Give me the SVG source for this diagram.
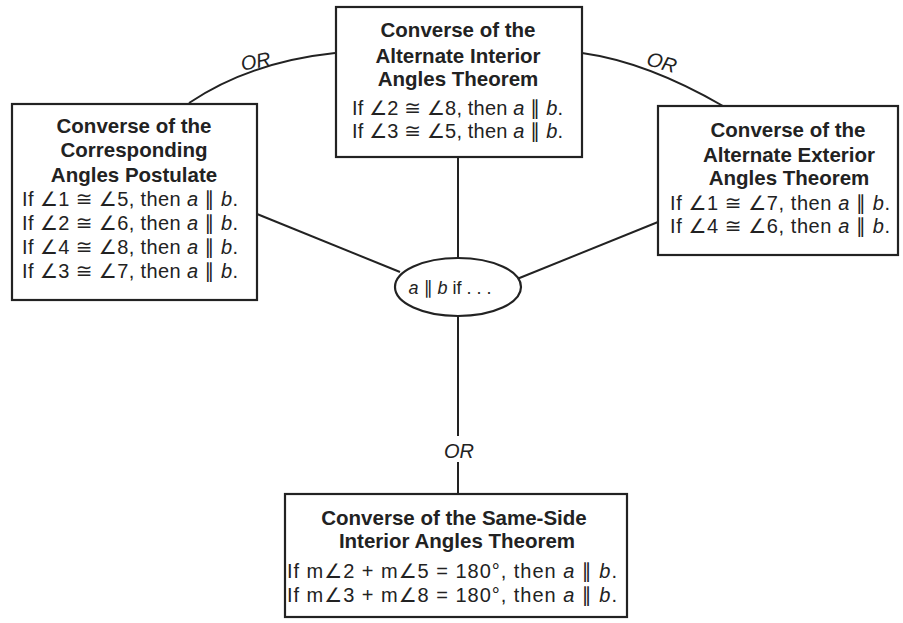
<svg xmlns="http://www.w3.org/2000/svg" width="903" height="623" viewBox="0 0 903 623">
<style>
.box{fill:#fff;stroke:#222;stroke-width:2.2}
.ln{fill:none;stroke:#222;stroke-width:2}
.t{font-family:"Liberation Sans","DejaVu Sans",Arial,sans-serif;font-size:20.5px;font-weight:bold;fill:#222;text-anchor:middle}
.b{font-family:"Liberation Sans","DejaVu Sans",Arial,sans-serif;font-size:20px;fill:#222;text-anchor:middle}
.c{font-size:18px}
.or{font-family:"Liberation Sans","DejaVu Sans",Arial,sans-serif;font-size:20px;font-style:italic;fill:#222;text-anchor:middle}
.i{font-style:italic}
</style>
<rect width="903" height="623" fill="#fff"/>
<g id="connectors">
<path class="ln" d="M189 103 Q250 62 335 53"/>
<path class="ln" d="M582 53 Q647 62 723 106"/>
<line class="ln" x1="458" y1="157" x2="458" y2="258"/>
<line class="ln" x1="257" y1="214" x2="400" y2="272"/>
<line class="ln" x1="658" y1="222" x2="517" y2="279"/>
<line class="ln" x1="458" y1="316" x2="458" y2="436"/>
<line class="ln" x1="458" y1="462" x2="458" y2="494"/>
<text class="or" transform="translate(257 68) rotate(-11)">OR</text>
<text class="or" transform="translate(660 69) rotate(16)">OR</text>
<text class="or" x="459" y="458">OR</text>
</g>
<g id="top">
<rect class="box" x="336" y="7" width="246" height="150"/>
<text class="t" x="458" y="37">Converse of the</text>
<text class="t" x="458" y="63">Alternate Interior</text>
<text class="t" x="458" y="86">Angles Theorem</text>
<text class="b" x="457.5" y="115" textLength="211" lengthAdjust="spacing">If ∠2 ≅ ∠8, then <tspan class="i">a</tspan> ∥ <tspan class="i">b</tspan>.</text>
<text class="b" x="457.5" y="138" textLength="211" lengthAdjust="spacing">If ∠3 ≅ ∠5, then <tspan class="i">a</tspan> ∥ <tspan class="i">b</tspan>.</text>
</g>
<g id="left">
<rect class="box" x="12" y="104" width="245" height="196"/>
<text class="t" x="134" y="133">Converse of the</text>
<text class="t" x="134" y="157">Corresponding</text>
<text class="t" x="134" y="182">Angles Postulate</text>
<text class="b" x="130" y="206" textLength="216" lengthAdjust="spacing">If ∠1 ≅ ∠5, then <tspan class="i">a</tspan> ∥ <tspan class="i">b</tspan>.</text>
<text class="b" x="130" y="230" textLength="216" lengthAdjust="spacing">If ∠2 ≅ ∠6, then <tspan class="i">a</tspan> ∥ <tspan class="i">b</tspan>.</text>
<text class="b" x="130" y="254" textLength="216" lengthAdjust="spacing">If ∠4 ≅ ∠8, then <tspan class="i">a</tspan> ∥ <tspan class="i">b</tspan>.</text>
<text class="b" x="130" y="278" textLength="216" lengthAdjust="spacing">If ∠3 ≅ ∠7, then <tspan class="i">a</tspan> ∥ <tspan class="i">b</tspan>.</text>
</g>
<g id="right">
<rect class="box" x="658" y="106" width="240" height="149"/>
<text class="t" x="788" y="137">Converse of the</text>
<text class="t" x="789" y="162">Alternate Exterior</text>
<text class="t" x="789" y="185">Angles Theorem</text>
<text class="b" x="780" y="210" textLength="220" lengthAdjust="spacing">If ∠1 ≅ ∠7, then <tspan class="i">a</tspan> ∥ <tspan class="i">b</tspan>.</text>
<text class="b" x="780" y="233" textLength="220" lengthAdjust="spacing">If ∠4 ≅ ∠6, then <tspan class="i">a</tspan> ∥ <tspan class="i">b</tspan>.</text>
</g>
<g id="center">
<ellipse class="box" cx="458" cy="287" rx="63" ry="29"/>
<text class="b c" x="450" y="294"><tspan class="i">a</tspan> ∥ <tspan class="i">b</tspan> if . . .</text>
</g>
<g id="bottom">
<rect class="box" x="285" y="494" width="342" height="123"/>
<text class="t" x="454" y="525">Converse of the Same-Side</text>
<text class="t" x="457" y="548">Interior Angles Theorem</text>
<text class="b" x="452" y="578" textLength="330" lengthAdjust="spacing">If m∠2 + m∠5 = 180°, then <tspan class="i">a</tspan> ∥ <tspan class="i">b</tspan>.</text>
<text class="b" x="452" y="602" textLength="330" lengthAdjust="spacing">If m∠3 + m∠8 = 180°, then <tspan class="i">a</tspan> ∥ <tspan class="i">b</tspan>.</text>
</g>
</svg>
